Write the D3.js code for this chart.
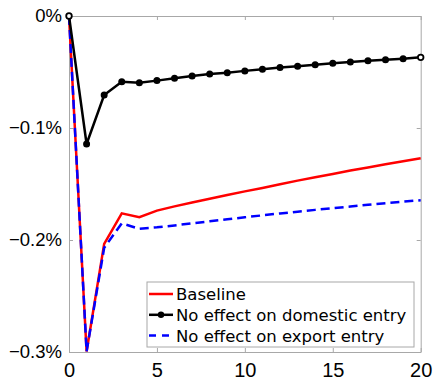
<!DOCTYPE html>
<html>
<head>
<meta charset="utf-8">
<script src="https://cdn.jsdelivr.net/npm/d3@7"></script>
<style>
  body { margin: 0; background: #fff; }
  svg { display: block; font-family: "DejaVu Sans", "Noto Sans", sans-serif; }
</style>
</head>
<body>
<div id="chart"></div>
<script>
// horizon (periods) and responses, in percent
const periods = d3.range(0, 21);
const baseline = [0, -0.2995, -0.2035, -0.1762, -0.1797, -0.1738, -0.1700, -0.1665, -0.1632, -0.1598, -0.1566,
  -0.1535, -0.1502, -0.1470, -0.1440, -0.1410, -0.1380, -0.1352, -0.1324, -0.1297, -0.1270];
const noDomestic = [0, -0.1143, -0.0705, -0.0587, -0.0595, -0.0577, -0.0556, -0.0536, -0.0518, -0.0506, -0.0490,
  -0.0476, -0.0460, -0.0448, -0.0435, -0.0422, -0.0411, -0.0399, -0.0390, -0.0381, -0.0369];
const noExport = [0, -0.2995, -0.2070, -0.1851, -0.1900, -0.1887, -0.1870, -0.1851, -0.1833, -0.1815, -0.1797,
  -0.1780, -0.1763, -0.1747, -0.1731, -0.1716, -0.1701, -0.1686, -0.1672, -0.1658, -0.1645];
const xTicks = [0, 5, 10, 15, 20];
const yTicks = [0, -0.1, -0.2, -0.3];
const seriesNames = ["Baseline", "No effect on domestic entry", "No effect on export entry"];

const W = 433, H = 380;
const margin = { top: 16, right: 12.3, bottom: 28, left: 69 };
const axisCol = "#a8a8a8";

const svg = d3.select("#chart").append("svg")
    .attr("width", W).attr("height", H);

const x = d3.scaleLinear().domain([0, 20]).range([margin.left, W - margin.right]);
const y = d3.scaleLinear().domain([-0.3, 0]).range([H - margin.bottom, margin.top]);

// axes box with inward ticks
const fmtY = d => d === 0 ? "0%" : "\u2212" + Math.abs(d).toFixed(1) + "%";

const gx = svg.append("g")
    .attr("transform", `translate(0,${y(-0.3)})`)
    .call(d3.axisBottom(x).tickValues(xTicks).tickSizeInner(-4).tickSizeOuter(0).tickPadding(11));
const gxTop = svg.append("g")
    .attr("transform", `translate(0,${y(0)})`)
    .call(d3.axisTop(x).tickValues(xTicks).tickSizeInner(-4).tickSizeOuter(0).tickFormat(""));
const gy = svg.append("g")
    .attr("transform", `translate(${x(0)},0)`)
    .call(d3.axisLeft(y).tickValues(yTicks).tickSizeInner(-4).tickSizeOuter(0).tickFormat(fmtY).tickPadding(7));
const gyR = svg.append("g")
    .attr("transform", `translate(${x(20)},0)`)
    .call(d3.axisRight(y).tickValues(yTicks).tickSizeInner(-4).tickSizeOuter(0).tickFormat(""));

[gx, gxTop, gy, gyR].forEach(g => {
    g.select(".domain").attr("stroke", axisCol).attr("stroke-width", 1);
    g.selectAll(".tick line").attr("stroke", axisCol);
});
gx.selectAll("text").attr("fill", "#000").style("font-size", "20px")
    .attr("dy", "0.71em");
gy.selectAll("text").attr("fill", "#000").style("font-size", "18.5px");

// lines
const line = d3.line().x((d, i) => x(periods[i])).y(d => y(d));

svg.append("path").datum(baseline)
    .attr("fill", "none").attr("stroke", "#ff0000").attr("stroke-width", 2.5)
    .attr("d", line);

svg.append("path").datum(noExport)
    .attr("fill", "none").attr("stroke", "#0000ff").attr("stroke-width", 2.5)
    .attr("stroke-dasharray", "9,5")
    .attr("d", line);

svg.append("path").datum(noDomestic)
    .attr("fill", "none").attr("stroke", "#000").attr("stroke-width", 2.5)
    .attr("d", line);

svg.selectAll(".dot").data(noDomestic).join("circle")
    .attr("class", "dot")
    .attr("cx", (d, i) => x(periods[i]))
    .attr("cy", d => y(d))
    .attr("r", (d, i) => (i === 0 || i === periods.length - 1) ? 2.8 : 3.5)
    .attr("fill", (d, i) => (i === 0 || i === periods.length - 1) ? "#fff" : "#000")
    .attr("stroke", "#000")
    .attr("stroke-width", (d, i) => (i === 0 || i === periods.length - 1) ? 1.8 : 0);

// legend
const lg = svg.append("g").attr("transform", "translate(147,282)");
lg.append("rect").attr("width", 267).attr("height", 65)
    .attr("fill", "#fff").attr("stroke", axisCol).attr("stroke-width", 1);

const styles = [
    { stroke: "#ff0000", dash: null, marker: false },
    { stroke: "#000", dash: null, marker: true },
    { stroke: "#0000ff", dash: "7,6", marker: false }
];
seriesNames.forEach((name, i) => {
    const cy = 12 + i * 20.8;
    lg.append("line").attr("x1", 2).attr("x2", 26).attr("y1", cy).attr("y2", cy)
        .attr("stroke", styles[i].stroke).attr("stroke-width", 2.5)
        .attr("stroke-dasharray", styles[i].dash);
    if (styles[i].marker) {
        lg.append("circle").attr("cx", 14).attr("cy", cy).attr("r", 3.2).attr("fill", "#000");
    }
    lg.append("text").attr("x", 29).attr("y", cy).attr("dy", "0.36em")
        .style("font-size", "16.5px").attr("fill", "#000").text(name);
});
</script>
</body>
</html>
